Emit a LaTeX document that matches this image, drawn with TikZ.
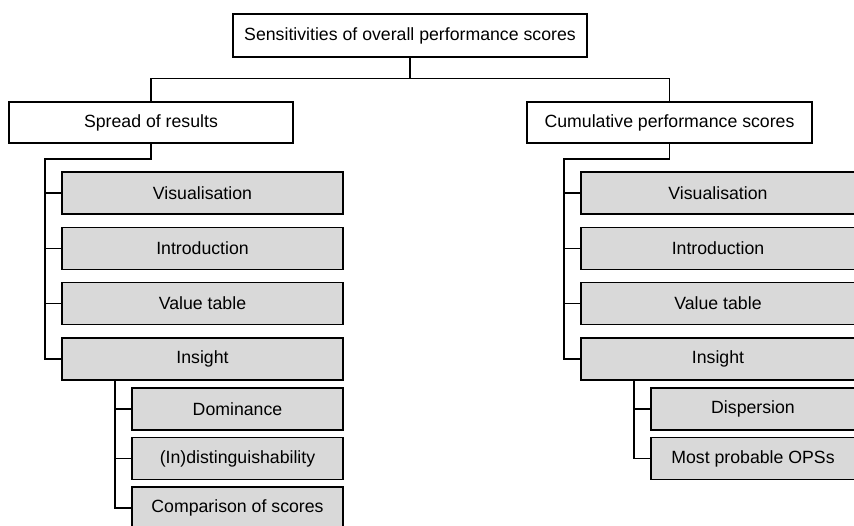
\documentclass[tikz,border=0pt]{standalone}
\usepackage{fontspec}
\setmainfont{Liberation Sans}
\begin{document}
\begin{tikzpicture}[x=1pt,y=-1pt,
  every node/.style={inner sep=0pt, outer sep=0pt, draw=black, line width=1.1pt,
    font=\fontsize{17.7}{21}\selectfont, anchor=north west},
  headbox/.style={fill=white},
  itembox/.style={fill=boxgray},
  link/.style={line width=1.1pt, draw=black}
]
\definecolor{boxgray}{RGB}{217,217,217}
\useasboundingbox (0,0) rectangle (854,525);

% top level
\node[headbox, minimum width=354pt, minimum height=43pt] (top) at (233,14) {Sensitivities of overall performance scores};

% second level
\node[headbox, minimum width=284pt, minimum height=41pt] (spread) at (9,102) {Spread of results};
\node[headbox, minimum width=285pt, minimum height=41pt] (cum) at (527,102) {Cumulative performance scores};

% left column
\node[itembox, minimum width=281pt, minimum height=42pt] (visL) at (62,172) {Visualisation};
\node[itembox, minimum width=281pt, minimum height=42pt] (introL) at (62,227.5) {Introduction};
\node[itembox, minimum width=281pt, minimum height=42pt] (valL) at (62,282.5) {Value table};
\node[itembox, minimum width=281pt, minimum height=42pt] (insL) at (62,338) {Insight};
\node[itembox, minimum width=211pt, minimum height=42pt] (domL) at (132,388) {Dominance};
\node[itembox, minimum width=211pt, minimum height=42pt] (indL) at (132,437.5) {(In)distinguishability};
\node[itembox, minimum width=211pt, minimum height=42pt] (cmpL) at (132,487) {Comparison of scores};

% right column
\node[itembox, minimum width=274pt, minimum height=42pt] (visR) at (581,172) {Visualisation};
\node[itembox, minimum width=274pt, minimum height=42pt] (introR) at (581,227.5) {Introduction};
\node[itembox, minimum width=274pt, minimum height=42pt] (valR) at (581,282.5) {Value table};
\node[itembox, minimum width=274pt, minimum height=42pt] (insR) at (581,338) {Insight};
\node[itembox, minimum width=204pt, minimum height=42pt] (dspR) at (651,388) {Dispersion};
\node[itembox, minimum width=204pt, minimum height=42pt] (mopR) at (651,437.5) {Most probable OPSs};

% top connectors
\draw[link] (top.south) -- ++(0,21.5) coordinate (bus);
\draw[link] (spread.north) |- (bus) -| (cum.north);

% left branch
\draw[link] (spread.south) -- ++(0,16) -| ([xshift=-17pt]insL.west) -- (insL.west);
\draw[link] ([xshift=-17pt]visL.west) -- (visL.west);
\draw[link] ([xshift=-17pt]introL.west) -- (introL.west);
\draw[link] ([xshift=-17pt]valL.west) -- (valL.west);
\draw[link] ([xshift=53pt]insL.south west) |- (cmpL.west);
\draw[link] ([xshift=-17pt]domL.west) -- (domL.west);
\draw[link] ([xshift=-17pt]indL.west) -- (indL.west);

% right branch
\draw[link] (cum.south) -- ++(0,16) -| ([xshift=-17pt]insR.west) -- (insR.west);
\draw[link] ([xshift=-17pt]visR.west) -- (visR.west);
\draw[link] ([xshift=-17pt]introR.west) -- (introR.west);
\draw[link] ([xshift=-17pt]valR.west) -- (valR.west);
\draw[link] ([xshift=53pt]insR.south west) |- (mopR.west);
\draw[link] ([xshift=-17pt]dspR.west) -- (dspR.west);
\end{tikzpicture}
\end{document}
